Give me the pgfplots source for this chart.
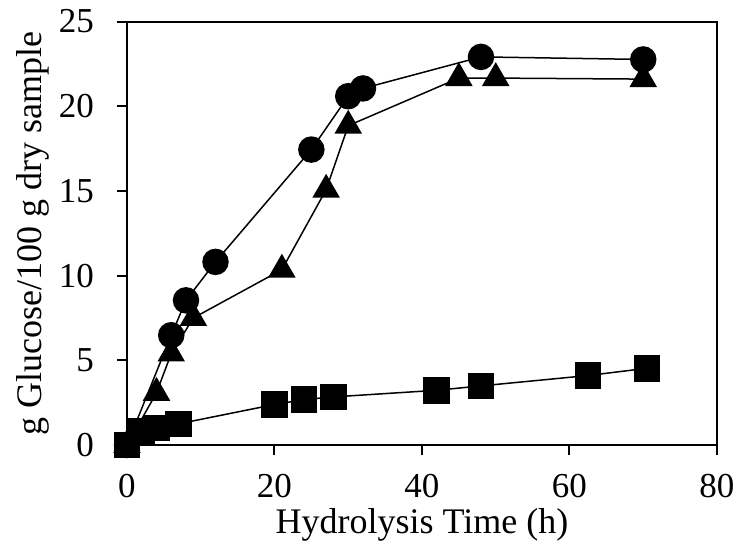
\documentclass[border=0pt]{standalone}
\usepackage{pgfplots}
\pgfplotsset{compat=1.18}
\usepackage{fontspec}
\setmainfont{Liberation Serif}

\begin{document}
\begin{tikzpicture}
\begin{axis}[
  scale only axis,
  width=295pt, height=211.75pt,
  xmin=0, xmax=80, ymin=0, ymax=25,
  xtick={0,20,40,60,80}, ytick={0,5,10,15,20,25},
  axis line style={line width=1pt},
  tick style={line width=1pt, black},
  tick align=outside, major tick length=5pt,
  xtick pos=bottom, ytick pos=left,
  /pgf/number format/assume math mode=true,
  ticklabel style={font=\fontsize{17.5}{20}\selectfont},
  xticklabel style={yshift=-6pt},
  yticklabel style={xshift=-8pt},
  xlabel={Hydrolysis Time (h)},
  ylabel={g Glucose/100 g dry sample},
  label style={font=\fontsize{18}{21}\selectfont},
  xlabel style={at={([yshift=-44pt]axis description cs:0.5,0)}, anchor=base},
  ylabel style={at={([xshift=-42.5pt]axis description cs:0,0.5)}, anchor=base},
  clip=false,
]
% circles
\addplot[black, line width=0.75pt, mark=*, mark size=6.25pt, mark options={solid, fill=black}]
  coordinates {(0,0) (6,6.48) (8,8.54) (12,10.81) (25,17.44) (30,20.59) (32,21.05) (48,22.91) (70,22.76)};
% triangles
\addplot[black, line width=0.75pt, mark=triangle*, mark size=7.2pt, mark options={solid, fill=black}]
  coordinates {(0,0) (4,3.08) (6,5.4) (9,7.5) (21,10.35) (27,15.07) (30,18.85) (45,21.66) (50,21.66) (70,21.6)};
% squares
\addplot[black, line width=0.75pt, mark=square*, mark size=6.25pt, mark options={solid, fill=black}]
  coordinates {(0,0) (2,0.8) (4,1.0) (7,1.25) (20,2.39) (24,2.68) (28,2.84) (42,3.23) (48,3.49) (62.5,4.1) (70.5,4.53)};
\coordinate (sw) at (rel axis cs:0,0);
\end{axis}
\pgfresetboundingbox
\path[use as bounding box] (sw) ++(-63.5pt,-51.5pt) rectangle ++(370pt,274pt);
\end{tikzpicture}
\end{document}
